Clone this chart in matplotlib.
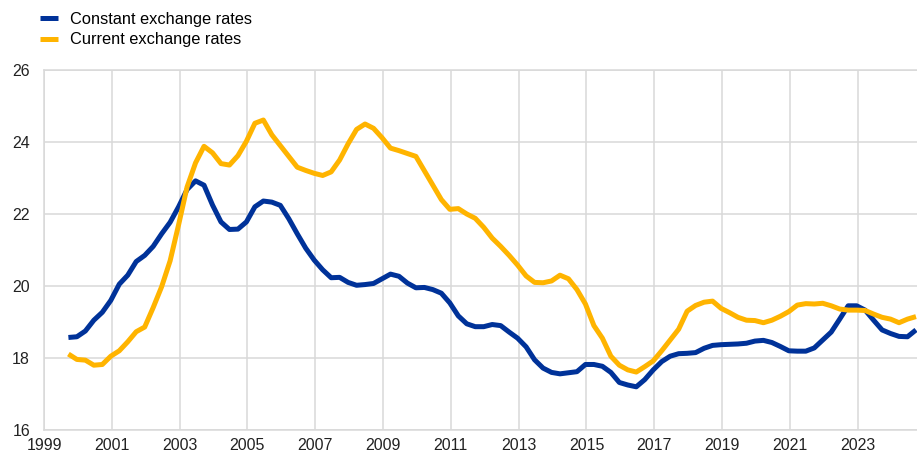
import matplotlib
matplotlib.use("Agg")
import matplotlib.pyplot as plt
import numpy as np

# quarterly observations, first one around Q3/Q4 1999
start_year = 1999.72
constant_rates = [
    18.57, 18.59, 18.75, 19.05, 19.27, 19.60, 20.05, 20.30, 20.68, 20.85,
    21.10, 21.45, 21.77, 22.20, 22.68, 22.92, 22.80, 22.25, 21.78, 21.57,
    21.58, 21.78, 22.20, 22.36, 22.33, 22.24, 21.87, 21.45, 21.05, 20.72,
    20.45, 20.23, 20.24, 20.10, 20.02, 20.04, 20.07, 20.20, 20.33, 20.27,
    20.08, 19.95, 19.96, 19.90, 19.80, 19.53, 19.17, 18.95, 18.87, 18.87,
    18.93, 18.90, 18.72, 18.55, 18.31, 17.95, 17.72, 17.60, 17.56, 17.59,
    17.62, 17.82, 17.82, 17.77, 17.60, 17.32, 17.25, 17.20, 17.40, 17.67,
    17.90, 18.05, 18.12, 18.13, 18.15, 18.27, 18.35, 18.37, 18.38, 18.39,
    18.41, 18.47, 18.49, 18.43, 18.32, 18.20, 18.19, 18.19, 18.28, 18.50,
    18.72, 19.08, 19.45, 19.45, 19.33, 19.05, 18.78, 18.68, 18.60, 18.59,
    18.78,
]
current_rates = [
    18.11, 17.96, 17.94, 17.80, 17.82, 18.05, 18.20, 18.45, 18.73, 18.86,
    19.40, 19.98, 20.70, 21.70, 22.75, 23.42, 23.88, 23.70, 23.40, 23.36,
    23.62, 24.02, 24.52, 24.61, 24.20, 23.90, 23.60, 23.30, 23.21, 23.13,
    23.07, 23.17, 23.50, 23.95, 24.35, 24.50, 24.38, 24.12, 23.83, 23.76,
    23.68, 23.60, 23.20, 22.80, 22.40, 22.13, 22.15, 22.00, 21.88, 21.63,
    21.33, 21.10, 20.85, 20.58, 20.28, 20.10, 20.09, 20.14, 20.30, 20.20,
    19.90, 19.50, 18.90, 18.55, 18.05, 17.80, 17.67, 17.61, 17.76, 17.92,
    18.20, 18.50, 18.80, 19.30, 19.46, 19.55, 19.58, 19.38, 19.26, 19.13,
    19.05, 19.04, 18.98, 19.05, 19.16, 19.29, 19.47, 19.51, 19.50, 19.52,
    19.45, 19.36, 19.33, 19.33, 19.32, 19.22, 19.13, 19.08, 18.98, 19.08,
    19.15,
]
labels = ["Constant exchange rates", "Current exchange rates"]
colors = ["#003299", "#ffb400"]
x_ticks = list(range(1999, 2024, 2))
y_ticks = [16, 18, 20, 22, 24, 26]

t = start_year + 0.25 * np.arange(len(constant_rates))

plt.rcParams["font.family"] = ["Liberation Sans", "DejaVu Sans"]
fig = plt.figure(figsize=(9.17, 4.57), dpi=100)
ax = fig.add_axes([44 / 917, 27 / 457, 1 - 44 / 917, 360 / 457])

ax.plot(t, constant_rates, color=colors[0], lw=3.6, label=labels[0],
        solid_capstyle="butt", zorder=3)
ax.plot(t, current_rates, color=colors[1], lw=3.6, label=labels[1],
        solid_capstyle="butt", zorder=3)

ax.set_xlim(1999, 2024.75)
ax.set_ylim(16, 26)
ax.set_xticks(x_ticks)
ax.set_yticks(y_ticks)
ax.tick_params(length=0, labelsize=11.5, colors="#222222")
ax.tick_params(axis="y", pad=10)
ax.tick_params(axis="x", pad=6)
ax.grid(True, color="#d9d9d9", lw=1.1)
ax.set_axisbelow(True)
for s in ["left", "bottom", "top"]:
    ax.spines[s].set_color("#d9d9d9")
    ax.spines[s].set_linewidth(1.1)
ax.spines["right"].set_visible(False)

ax.legend(loc="upper left", bbox_to_anchor=(40 / 917, 1 - 12 / 457),
          bbox_transform=fig.transFigure, frameon=False, fontsize=11.8,
          handlelength=1.1, handletextpad=0.7, labelspacing=0.32,
          borderpad=0, borderaxespad=0)

fig.savefig("out.png", dpi=100)
